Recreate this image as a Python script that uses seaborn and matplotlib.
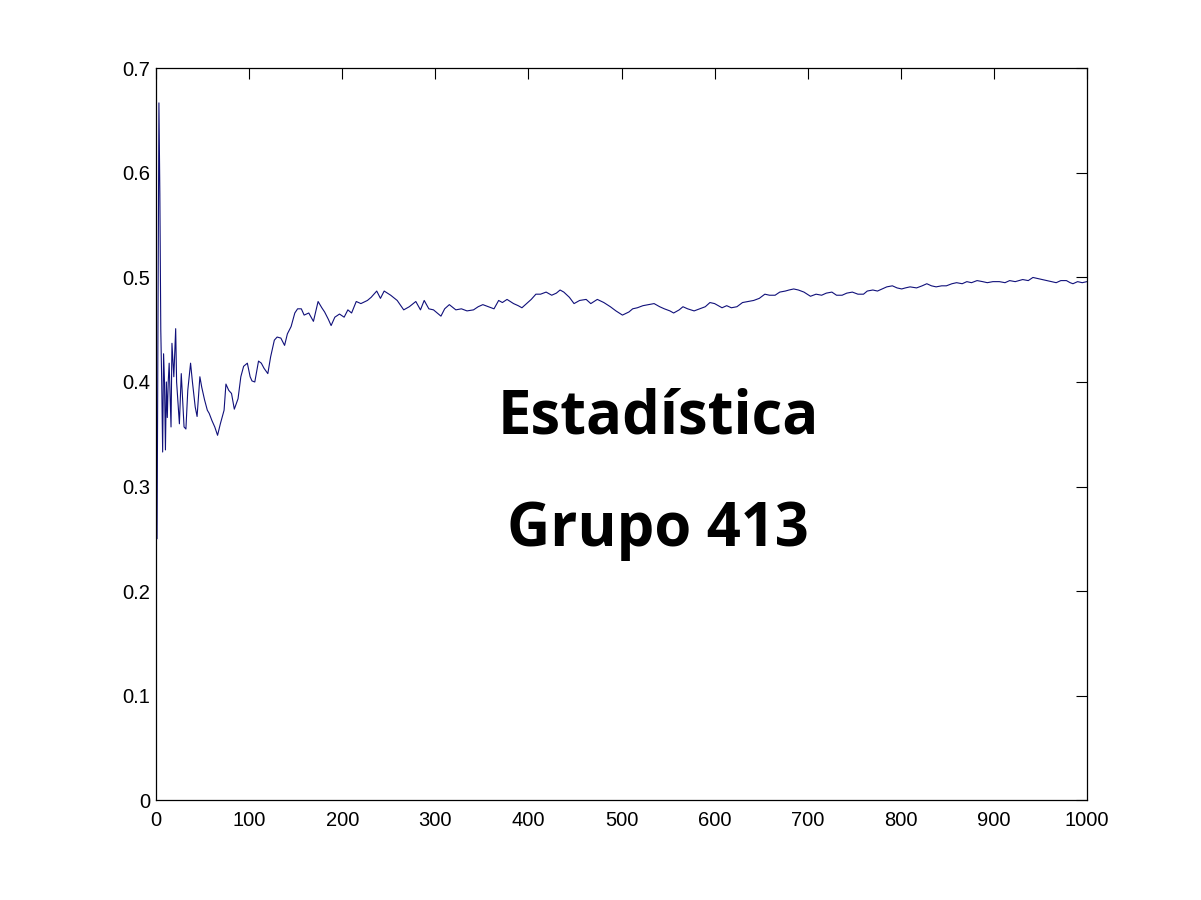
import matplotlib.pyplot as plt
import seaborn as sns
import pandas as pd

sns.set_theme(style="white")
plt.rcParams["font.family"] = ["Liberation Sans", "DejaVu Sans"]

# running proportion (trial number, proportion)
trials = [
    1, 2, 3, 4, 5, 6, 7, 8, 9, 10, 11, 12, 13, 14, 16, 17, 19, 21, 22, 25,
    27, 30, 32, 34, 37, 39, 42, 44, 47, 49, 52, 55, 57, 60, 63, 66, 69, 73, 75, 78,
    81, 84, 88, 91, 94, 98, 101, 103, 106, 110, 113, 116, 120, 123, 127, 130, 134, 138, 141, 145,
    149, 152, 156, 159, 164, 169, 174, 178, 181, 185, 188, 192, 197, 202, 206, 210, 215, 220, 227, 231,
    237, 241, 245, 252, 259, 266, 272, 279, 284, 288, 293, 298, 306, 310, 315, 322, 328, 334, 341, 346,
    351, 357, 363, 368, 372, 377, 384, 389, 393, 398, 403, 408, 413, 419, 425, 430, 434, 438, 444, 449,
    455, 462, 467, 474, 481, 488, 494, 501, 508, 512, 517, 523, 529, 535, 541, 546, 552, 556, 562, 566,
    571, 578, 584, 590, 595, 600, 608, 613, 618, 624, 630, 636, 642, 648, 654, 659, 665, 670, 676, 680,
    685, 690, 696, 703, 709, 715, 720, 726, 731, 737, 742, 748, 754, 760, 764, 770, 775, 780, 785, 791,
    796, 801, 805, 810, 817, 823, 828, 833, 838, 844, 849, 855, 860, 866, 871, 876, 882, 888, 893, 899,
    906, 912, 917, 923, 931, 937, 942, 947, 952, 957, 962, 967, 972, 978, 982, 985, 990, 995, 1000,
]
proportion = [
    0.25, 0.45, 0.667, 0.58, 0.45, 0.40, 0.333, 0.427, 0.40, 0.335, 0.40, 0.366, 0.40, 0.418, 0.357, 0.437, 0.405, 0.451, 0.40, 0.36,
    0.408, 0.357, 0.355, 0.392, 0.418, 0.40, 0.376, 0.367, 0.405, 0.395, 0.383, 0.373, 0.37, 0.363, 0.357, 0.349, 0.36, 0.373, 0.398, 0.392,
    0.389, 0.374, 0.384, 0.405, 0.415, 0.418, 0.405, 0.401, 0.40, 0.42, 0.418, 0.413, 0.408, 0.424, 0.44, 0.443, 0.442, 0.435, 0.446, 0.453,
    0.466, 0.47, 0.47, 0.464, 0.466, 0.458, 0.477, 0.471, 0.467, 0.46, 0.454, 0.462, 0.465, 0.462, 0.469, 0.466, 0.477, 0.475, 0.478, 0.481,
    0.487, 0.48, 0.487, 0.483, 0.478, 0.469, 0.472, 0.477, 0.469, 0.478, 0.47, 0.469, 0.463, 0.47, 0.474, 0.469, 0.47, 0.468, 0.469, 0.472,
    0.474, 0.472, 0.47, 0.478, 0.476, 0.479, 0.475, 0.473, 0.471, 0.475, 0.479, 0.484, 0.484, 0.486, 0.483, 0.485, 0.488, 0.486, 0.481, 0.475,
    0.478, 0.479, 0.475, 0.479, 0.476, 0.472, 0.468, 0.464, 0.467, 0.47, 0.471, 0.473, 0.474, 0.475, 0.472, 0.47, 0.468, 0.466, 0.469, 0.472,
    0.47, 0.468, 0.47, 0.472, 0.476, 0.475, 0.471, 0.473, 0.471, 0.472, 0.476, 0.477, 0.478, 0.48, 0.484, 0.483, 0.483, 0.486, 0.487, 0.488,
    0.489, 0.488, 0.486, 0.482, 0.484, 0.483, 0.485, 0.486, 0.483, 0.483, 0.485, 0.486, 0.484, 0.484, 0.487, 0.488, 0.487, 0.489, 0.491, 0.492,
    0.49, 0.489, 0.49, 0.491, 0.49, 0.492, 0.494, 0.492, 0.491, 0.492, 0.492, 0.494, 0.495, 0.494, 0.496, 0.495, 0.497, 0.496, 0.495, 0.496,
    0.496, 0.495, 0.497, 0.496, 0.498, 0.497, 0.5, 0.499, 0.498, 0.497, 0.496, 0.495, 0.497, 0.497, 0.495, 0.494, 0.496, 0.495, 0.496,
]

x_ticks = [0, 100, 200, 300, 400, 500, 600, 700, 800, 900, 1000]
y_ticks = [0, 0.1, 0.2, 0.3, 0.4, 0.5, 0.6, 0.7]
y_labels = ["0", "0.1", "0.2", "0.3", "0.4", "0.5", "0.6", "0.7"]

df = pd.DataFrame({"trial": trials, "proportion": proportion})

fig = plt.figure(figsize=(12.01, 9), dpi=100)
ax = fig.add_axes([0.13, 0.111, 0.775, 0.813])

sns.lineplot(data=df, x="trial", y="proportion", ax=ax, color="#10107a", linewidth=0.8)

ax.set_xlim(0, 1000)
ax.set_ylim(0, 0.7)
ax.set_xticks(x_ticks)
ax.set_xticklabels([str(t) for t in x_ticks])
ax.set_yticks(y_ticks)
ax.set_yticklabels(y_labels)
ax.set_xlabel("")
ax.set_ylabel("")
ax.tick_params(direction="in", length=8, width=0.8, top=True, right=True,
               labelsize=14.5, colors="black")
ax.tick_params(axis="x", pad=8)
ax.tick_params(axis="y", pad=4)
for side in ax.spines.values():
    side.set_color("black")
    side.set_linewidth(0.9)
ax.grid(False)

# overlay text
fig.text(0.548, 0.535, "Estadística", fontsize=43, fontweight="bold", color="black",
         family=["Open Sans", "DejaVu Sans"], ha="center", va="center")
fig.text(0.548, 0.411, "Grupo 413", fontsize=43, fontweight="bold", color="black",
         family=["Open Sans", "DejaVu Sans"], ha="center", va="center")

fig.savefig("out.png", dpi=100, facecolor="white")
